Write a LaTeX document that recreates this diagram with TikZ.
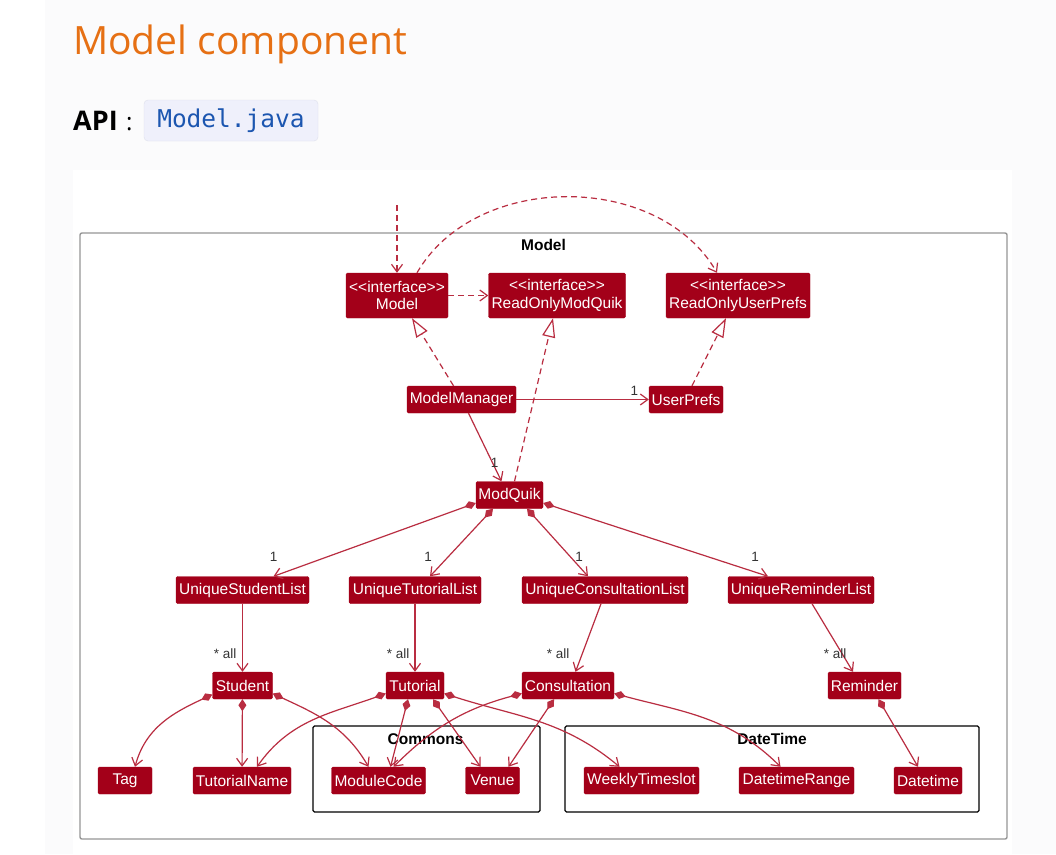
\documentclass[tikz,border=0pt]{standalone}
\usepackage{fontspec}
\setmainfont{Liberation Sans}
\newfontfamily\headfont{Open Sans}
\newfontfamily\codefont{DejaVu Sans Mono}
\usepackage{xcolor}
\usepackage{tikz}
\usetikzlibrary{arrows.meta,positioning,calc}

\definecolor{umlfill}{RGB}{163,0,25}
\definecolor{umlline}{RGB}{185,45,65}
\definecolor{headorange}{RGB}{230,112,20}
\definecolor{pagebg}{RGB}{251,251,252}
\definecolor{codebg}{RGB}{239,240,251}
\definecolor{codeborder}{RGB}{222,224,236}
\definecolor{codeblue}{RGB}{28,86,176}
\definecolor{framegray}{RGB}{150,150,150}

\newcommand{\stereo}{{<}{<}interface{>}{>}}

\begin{document}
\begin{tikzpicture}[x=1pt, y=-1pt,
    cls/.style={rectangle, fill=umlfill, draw=umlfill, text=white, rounded corners=1.5pt, inner sep=0pt, minimum height=27pt, align=center, font=\fontsize{15.5}{17.5}\selectfont},
    iface/.style={cls, minimum height=45pt},
    assoc/.style={draw=umlline, line width=1.2pt, -{Straight Barb[length=7.5pt,width=11pt]}},
    dep/.style={assoc, dash pattern=on 6pt off 4pt},
    realize/.style={draw=umlline, line width=1.2pt, dash pattern=on 6pt off 4pt, -{Triangle[length=19pt,width=13pt,fill=white]}},
    comp/.style={draw=umlline, line width=1.2pt, {Diamond[length=12pt,width=8pt]}-{Straight Barb[length=7.5pt,width=11pt]}},
    mult/.style={inner sep=0pt, text=black!80, font=\fontsize{13.5}{15}\selectfont},
    pkglabel/.style={inner sep=0pt, font=\bfseries\fontsize{15.5}{17}\selectfont},
    pkg/.style={draw=black, line width=1.3pt, rounded corners=1.5pt}
]
    % Page
    \fill[white] (0,0) rectangle (1056,854);
    \fill[pagebg] (45,0) rectangle (1056,854);
    \fill[white] (73,170) rectangle (1012,854);
    \useasboundingbox (0,0) rectangle (1056,854);

    % Heading
    \node[anchor=base west, inner sep=0pt, text=headorange, font=\headfont\fontsize{39}{44}\selectfont] (heading) at (73,54) {Model component};
    \node[anchor=base west, inner sep=0pt, font=\headfont\bfseries\fontsize{27}{30}\selectfont] (api) at (73,130) {API};
    \node[anchor=base west, inner sep=0pt, font=\headfont\fontsize{24}{28}\selectfont] (colon) at (126,130) {:};
    \node[fill=codebg, draw=codeborder, rounded corners=4pt, minimum width=174pt, minimum height=41pt, inner sep=0pt, text=codeblue, font=\codefont\fontsize{24.5}{28}\selectfont] (apifile) at (231,120.5) {Model.java};

    % Frames
    \draw[framegray, line width=1.4pt, rounded corners=2pt] (80,233) rectangle (1007,839);
    \node[pkglabel] (modellbl) at (543.5,245) {Model};
    \draw[pkg] (313,726) rectangle (540,812);
    \node[pkglabel] (commonslbl) at (425.5,739) {Commons};
    \draw[pkg] (565,726) rectangle (979,812);
    \node[pkglabel] (datetimelbl) at (772,739) {DateTime};

    % Nodes
    \node[iface, minimum width=102pt] (model) at (397,295.5) {\stereo\\Model};
    \node[iface, minimum width=137pt] (romq) at (557,295.5) {\stereo\\ReadOnlyModQuik};
    \node[iface, minimum width=144pt] (roup) at (738,295.5) {\stereo\\ReadOnlyUserPrefs};
    \node[cls, minimum width=109pt] (mgr) at (461.5,399.5) {ModelManager};
    \node[cls, minimum width=74pt] (prefs) at (686,399.5) {UserPrefs};
    \node[cls, minimum width=67pt] (modquik) at (509.5,495) {ModQuik};

    \node[cls, minimum width=133pt] (usl) at (242.5,590) {UniqueStudentList};
    \node[cls, minimum width=132pt] (utl) at (415,590) {UniqueTutorialList};
    \node[cls, minimum width=166pt] (ucl) at (605,590) {UniqueConsultationList};
    \node[cls, minimum width=146pt] (url) at (801,590) {UniqueReminderList};

    \node[cls, minimum width=60pt] (student) at (242.5,685.5) {Student};
    \node[cls, minimum width=58pt] (tutorial) at (415,685.5) {Tutorial};
    \node[cls, minimum width=92pt] (consult) at (568,685.5) {Consultation};
    \node[cls, minimum width=73pt] (reminder) at (864.5,685.5) {Reminder};

    \node[cls, minimum width=54pt] (tag) at (125,780.5) {Tag};
    \node[cls, minimum width=98pt] (tname) at (242,780.5) {TutorialName};
    \node[cls, minimum width=94pt] (mcode) at (378.5,780.5) {ModuleCode};
    \node[cls, minimum width=54pt] (venue) at (492.5,780.5) {Venue};
    \node[cls, minimum width=115pt] (wts) at (641.5,780.5) {WeeklyTimeslot};
    \node[cls, minimum width=115pt] (dtr) at (796.5,780.5) {DatetimeRange};
    \node[cls, minimum width=68pt] (dt) at (928,780.5) {Datetime};

    % Arrows
    \coordinate (entry) at (397,205);
    \draw[dep] (entry) -- (model);
    \draw[dep] ([xshift=20pt]model.north) to[out=60, in=120] ([xshift=-21pt]roup.north);
    \draw[dep] (model) -- (romq);
    \draw[realize] ([xshift=-8pt]mgr.north) -- ([xshift=15pt]model.south);
    \draw[realize] ([xshift=5pt]modquik.north) -- ([xshift=-4pt]romq.south);
    \draw[realize] ([xshift=6pt]prefs.north) -- ([xshift=-12pt]roup.south);
    \draw[assoc] (mgr) -- (prefs) node[mult, at end, anchor=south east, xshift=-10pt, yshift=3pt] (m1) {1};
    \draw[assoc] ([xshift=7pt]mgr.south) -- ([xshift=-8pt]modquik.north) node[mult, at end, anchor=south east, xshift=-2.5pt, yshift=13pt] (m2) {1};

    \draw[comp] ([yshift=-8pt]modquik.west) -- ([xshift=31pt]usl.north) node[mult, at end, anchor=south, yshift=14pt] (m3) {1};
    \draw[comp] ([xshift=-16.5pt]modquik.south) -- ([xshift=15pt]utl.north) node[mult, at end, anchor=south, xshift=-2pt, yshift=14pt] (m4) {1};
    \draw[comp] ([xshift=17.5pt]modquik.south) -- ([xshift=-17pt]ucl.north) node[mult, at end, anchor=south, xshift=-9pt, yshift=14pt] (m5) {1};
    \draw[comp] ([yshift=-8pt]modquik.east) -- ([xshift=-33pt]url.north) node[mult, at end, anchor=south, xshift=-13pt, yshift=14pt] (m6) {1};

    \draw[assoc] (usl) -- (student) node[mult, at end, anchor=south east, xshift=-5.5pt, yshift=13pt] (a1) {* all};
    \draw[assoc] (utl) -- (tutorial) node[mult, at end, anchor=south east, xshift=-5pt, yshift=13pt] (a2) {* all};
    \draw[assoc] ([xshift=-4pt]ucl.south) -- ([xshift=7.5pt]consult.north) node[mult, at end, anchor=south east, xshift=-5.5pt, yshift=13pt] (a3) {* all};
    \draw[assoc] ([xshift=11pt]url.south) -- ([xshift=-11.5pt]reminder.north) node[mult, at end, anchor=south east, xshift=-6pt, yshift=13pt] (a4) {* all};

    \draw[comp] ([yshift=-9pt]student.west) to[out=205, in=75] ([xshift=10pt]tag.north) node[mult, at end, anchor=south, xshift=-3pt, yshift=14pt] (a5) {*};
    \draw[comp] (student) -- (tname);
    \draw[comp] ([yshift=-8pt]student.east) to[out=-25, in=120] ([xshift=-10pt]mcode.north);
    \draw[comp] ([yshift=-8pt]tutorial.west) to[out=200, in=55] ([xshift=15pt]tname.north);
    \draw[comp] ([xshift=-7pt]tutorial.south) -- ([xshift=12pt]mcode.north);
    \draw[comp] ([xshift=18pt]tutorial.south) -- ([xshift=-12pt]venue.north);
    \draw[comp] ([yshift=-8pt]tutorial.east) to[out=-18, in=140] ([xshift=-22pt]wts.north);
    \draw[comp] ([yshift=-8pt]consult.west) to[out=195, in=45] ([xshift=15pt]mcode.north);
    \draw[comp] ([xshift=-14pt]consult.south) -- ([xshift=16pt]venue.north);
    \draw[comp] ([yshift=-8pt]consult.east) to[out=-15, in=135] ([xshift=-16pt]dtr.north);
    \draw[comp] ([xshift=14pt]reminder.south) -- ([xshift=-10pt]dt.north);
\end{tikzpicture}
\end{document}
